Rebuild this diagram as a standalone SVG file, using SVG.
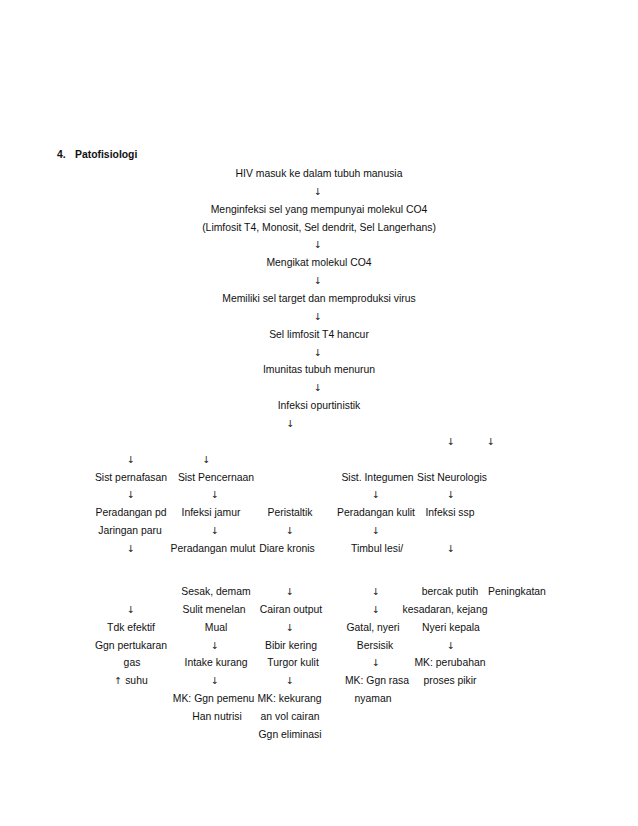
<svg xmlns="http://www.w3.org/2000/svg" width="638" height="826" viewBox="0 0 638 826">
<style>
text{font-family:"Liberation Sans",Arial,sans-serif;font-size:10.4px;fill:#111;text-anchor:middle}
.title{font-weight:bold;text-anchor:start}
.arr,.up{font-family:"DejaVu Sans",sans-serif;font-size:9.5px;fill:#222}
</style>
<rect width="638" height="826" fill="#fff"/>
<g id="title"><text class="title" x="57" y="158">4.</text><text class="title" x="75" y="158">Patofisiologi</text></g>
<g id="n-hiv"><text x="319" y="177">HIV masuk ke dalam tubuh manusia</text></g>
<g id="n-infeksi-cd4"><text x="319" y="212.7">Menginfeksi sel yang mempunyai molekul CO4</text><text x="319" y="230.6">(Limfosit T4, Monosit, Sel dendrit, Sel Langerhans)</text></g>
<g id="n-mengikat"><text x="319" y="266.3">Mengikat molekul CO4</text></g>
<g id="n-memiliki"><text x="319" y="302">Memiliki sel target dan memproduksi virus</text></g>
<g id="n-limfosit"><text x="319" y="337.7">Sel limfosit T4 hancur</text></g>
<g id="n-imunitas"><text x="319" y="373.4">Imunitas tubuh menurun</text></g>
<g id="n-oportunistik"><text x="319" y="409">Infeksi opurtinistik</text></g>
<g id="n-pernafasan"><text x="131" y="480.5">Sist pernafasan</text></g>
<g id="n-pencernaan"><text x="216" y="480.5">Sist Pencernaan</text></g>
<g id="n-integumen"><text x="377.5" y="480.5">Sist. Integumen</text></g>
<g id="n-neurologis"><text x="452" y="480.5">Sist Neurologis</text></g>
<g id="n-paru"><text x="131" y="516.2">Peradangan pd</text><text x="130" y="534">Jaringan paru</text></g>
<g id="n-jamur"><text x="211" y="516.2">Infeksi jamur</text></g>
<g id="n-peristaltik"><text x="290" y="516.2">Peristaltik</text></g>
<g id="n-kulit"><text x="376" y="516.2">Peradangan kulit</text></g>
<g id="n-ssp"><text x="450" y="516.2">Infeksi ssp</text></g>
<g id="n-mulut"><text x="213" y="551.9">Peradangan mulut</text></g>
<g id="n-diare"><text x="287" y="551.9">Diare kronis</text></g>
<g id="n-lesi"><text x="377" y="551.9">Timbul lesi/</text></g>
<g id="n-sesak"><text x="216" y="595">Sesak, demam</text><text x="214" y="612.9">Sulit menelan</text><text x="216" y="630.7">Mual</text></g>
<g id="n-bercak"><text x="450" y="595">bercak putih</text></g>
<g id="n-peningkatan"><text x="517" y="595">Peningkatan</text><text x="445" y="612.9">kesadaran, kejang</text><text x="451" y="630.7">Nyeri kepala</text></g>
<g id="n-cairan"><text x="291" y="612.9">Cairan output</text></g>
<g id="n-tdk"><text x="131" y="630.7">Tdk efektif</text><text x="131" y="648.6">Ggn pertukaran</text><text x="132" y="666.4">gas</text><text x="131" y="684.3"><tspan class="up">↑</tspan> suhu</text></g>
<g id="n-gatal"><text x="373" y="630.7">Gatal, nyeri</text><text x="375" y="648.6">Bersisik</text></g>
<g id="n-bibir"><text x="291" y="648.6">Bibir kering</text><text x="293" y="666.4">Turgor kulit</text></g>
<g id="n-intake"><text x="216" y="666.4">Intake kurang</text></g>
<g id="n-mk-pikir"><text x="450" y="666.4">MK: perubahan</text><text x="450" y="684.3">proses pikir</text></g>
<g id="n-mk-nyaman"><text x="377" y="684.3">MK: Ggn rasa</text><text x="373" y="702.1">nyaman</text></g>
<g id="n-mk-nutrisi"><text x="213.5" y="702.1">MK: Ggn pemenu</text><text x="217" y="720">Han nutrisi</text></g>
<g id="n-mk-cairan"><text x="289.5" y="702.1">MK: kekurang</text><text x="290" y="720">an vol cairan</text><text x="290" y="737.8">Ggn eliminasi</text></g>
<g id="connectors">
<text class="arr" x="318" y="194.9">↓</text>
<text class="arr" x="318" y="248.4">↓</text>
<text class="arr" x="318" y="284.1">↓</text>
<text class="arr" x="318" y="319.8">↓</text>
<text class="arr" x="318" y="355.5">↓</text>
<text class="arr" x="318" y="391.2">↓</text>
<text class="arr" x="290.5" y="427">↓</text>
<text class="arr" x="451" y="444.8">↓</text>
<text class="arr" x="491" y="444.8">↓</text>
<text class="arr" x="131" y="462.6">↓</text>
<text class="arr" x="206.5" y="462.6">↓</text>
<text class="arr" x="131" y="498.3">↓</text>
<text class="arr" x="215" y="498.3">↓</text>
<text class="arr" x="376" y="498.3">↓</text>
<text class="arr" x="451" y="498.3">↓</text>
<text class="arr" x="215" y="534">↓</text>
<text class="arr" x="290" y="534">↓</text>
<text class="arr" x="376" y="534">↓</text>
<text class="arr" x="131" y="551.9">↓</text>
<text class="arr" x="451" y="551.9">↓</text>
<text class="arr" x="290" y="595">↓</text>
<text class="arr" x="376" y="595">↓</text>
<text class="arr" x="131" y="612.9">↓</text>
<text class="arr" x="376" y="612.9">↓</text>
<text class="arr" x="290" y="630.7">↓</text>
<text class="arr" x="215" y="648.6">↓</text>
<text class="arr" x="451" y="648.6">↓</text>
<text class="arr" x="376" y="666.4">↓</text>
<text class="arr" x="215" y="684.3">↓</text>
<text class="arr" x="290" y="684.3">↓</text>
</g>
</svg>
